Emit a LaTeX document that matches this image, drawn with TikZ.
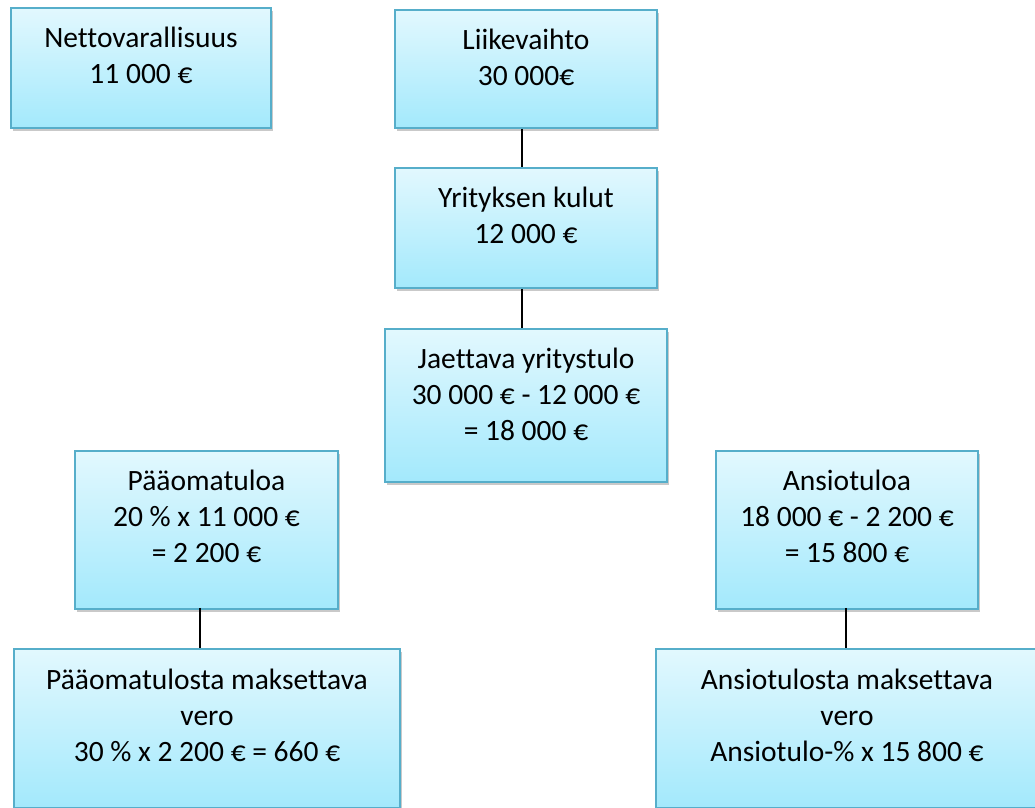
\documentclass[tikz,border=0pt]{standalone}
\usepackage{fontspec}
\setmainfont[Ligatures=NoCommon]{Carlito}
\usetikzlibrary{shadows}
\definecolor{boxtop}{HTML}{E2F8FE}
\definecolor{boxbot}{HTML}{A3E9FC}
\definecolor{boxline}{HTML}{56AECA}
\newcommand{\tstrut}{\rule{0pt}{24pt}}
\tikzset{
  box/.style={draw=boxline, line width=1.5pt, top color=boxtop, bottom color=boxbot,
    inner sep=0pt, rectangle,
    drop shadow={shadow xshift=2pt, shadow yshift=-3pt, opacity=0.3, fill=black!70}},
  txt/.style={align=center, inner sep=0pt, anchor=north, text=black,
    font={\fontsize{29.5pt}{36pt}\selectfont}},
  conn/.style={draw=black, line width=2pt}
}
\begin{document}
\begin{tikzpicture}[x=1pt, y=-1pt]
\useasboundingbox (0,0) rectangle (1035,807);
\clip (0,0) rectangle (1035,807);
% boxes
\node[box, minimum width=260pt, minimum height=120pt] (b1) at (141,68) {};
\node[box, minimum width=262pt, minimum height=118pt] (b2) at (526,69) {};
\node[box, minimum width=262pt, minimum height=120pt] (b3) at (526,228) {};
\node[box, minimum width=282pt, minimum height=153pt] (b4) at (526,405.5) {};
\node[box, minimum width=263pt, minimum height=158pt] (b5) at (206.5,530) {};
\node[box, minimum width=262pt, minimum height=158pt] (b6) at (847,530) {};
\node[box, minimum width=386pt, minimum height=159pt] (b7) at (207,728.5) {};
\node[box, minimum width=382pt, minimum height=159pt] (b8) at (847,728.5) {};
% texts
\node[txt] (t1) at ([yshift=-16pt]b1.north) {\tstrut Nettovarallisuus\\11 000 €};
\node[txt] (t2) at ([yshift=-16pt]b2.north) {\tstrut Liikevaihto\\30 000€};
\node[txt] (t3) at ([yshift=-16pt]b3.north) {\tstrut Yrityksen kulut\\12 000 €};
\node[txt] (t4) at ([yshift=-16pt]b4.north) {\tstrut Jaettava yritystulo\\30 000 € - 12 000 €\\= 18 000 €};
\node[txt] (t5) at ([yshift=-16pt]b5.north) {\tstrut Pääomatuloa\\20 \% x 11 000 €\\= 2 200 €};
\node[txt] (t6) at ([yshift=-16pt]b6.north) {\tstrut Ansiotuloa\\18 000 € - 2 200 €\\= 15 800 €};
\node[txt] (t7) at ([yshift=-17pt]b7.north) {\tstrut Pääomatulosta maksettava\\vero\\30 \% x 2 200 € = 660 €};
\node[txt] (t8) at ([yshift=-17pt]b8.north) {\tstrut Ansiotulosta maksettava\\vero\\Ansiotulo-\% x 15 800 €};
% connectors
\coordinate (cx1) at (521.5,0);
\coordinate (cx2) at (199.5,0);
\coordinate (cx3) at (846,0);
\draw[conn] (b2.south -| cx1) -- (b3.north -| cx1);
\draw[conn] (b3.south -| cx1) -- (b4.north -| cx1);
\draw[conn] ([yshift=2pt]b5.south -| cx2) -- (b7.north -| cx2);
\draw[conn] ([yshift=2pt]b6.south -| cx3) -- (b8.north -| cx3);
\end{tikzpicture}
\end{document}
